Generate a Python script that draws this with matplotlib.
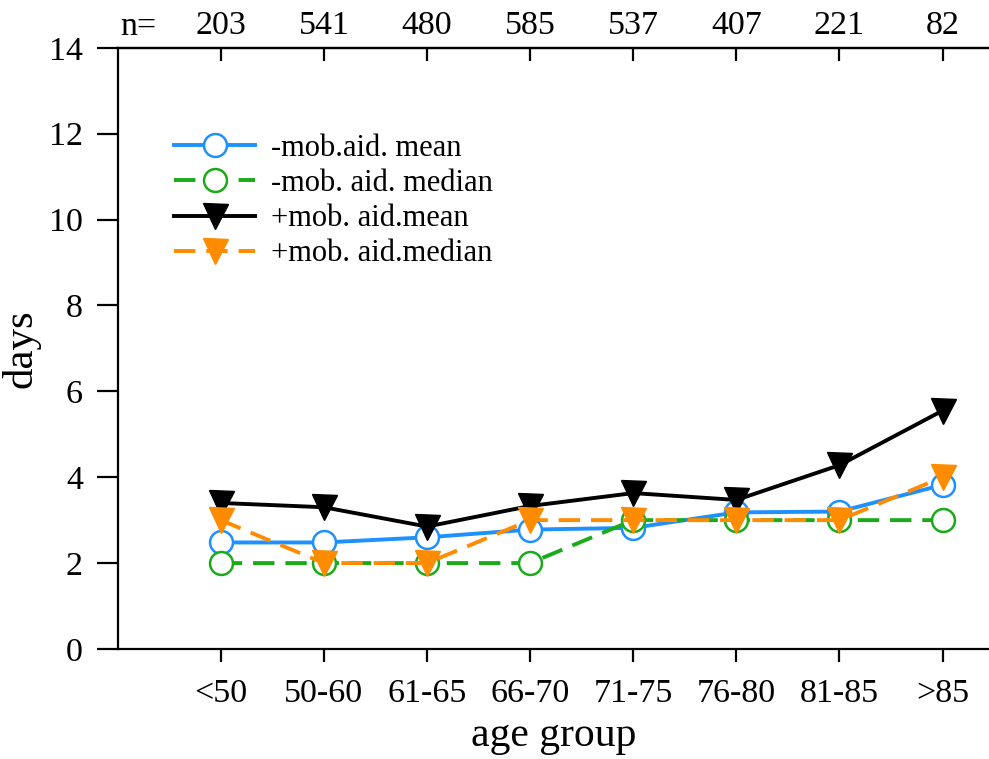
import numpy as np
import matplotlib
matplotlib.use('Agg')
import matplotlib.pyplot as plt

plt.rcParams['font.family'] = ['Liberation Serif', 'DejaVu Serif']

# ── Data ─────────────────────────────────────────────────────────────────────
age_groups = ['<50', '50-60', '61-65', '66-70', '71-75', '76-80', '81-85', '>85']
n_counts = ['203', '541', '480', '585', '537', '407', '221', '82']

no_aid_mean = [2.48, 2.48, 2.60, 2.78, 2.82, 3.18, 3.20, 3.82]
no_aid_median = [2, 2, 2, 2, 3, 3, 3, 3]
aid_mean = [3.40, 3.30, 2.85, 3.33, 3.63, 3.47, 4.28, 5.55]
aid_median = [3, 2, 2, 3, 3, 3, 3, 4]

# ── Plot ─────────────────────────────────────────────────────────────────────
fig = plt.figure(figsize=(9.89, 7.59), dpi=100)
ax = fig.add_axes([0.119, 0.145, 0.881, 0.792])

x = np.arange(len(age_groups))
dash = (0, (5.5, 2.8))
LW = 2.8

ax.plot(x, no_aid_mean, color='#1e90ff', lw=LW, marker='o', ms=16.5,
        mfc='white', mec='#1e90ff', mew=1.8, label='-mob.aid. mean')
ax.plot(x, no_aid_median, color='#1aaa1a', lw=LW, ls=dash, marker='o', ms=16.5,
        mfc='white', mec='#1aaa1a', mew=1.8, label='-mob. aid. median')
ax.plot(x, aid_mean, color='black', lw=LW, marker='v', ms=18,
        label='+mob. aid.mean')
ax.plot(x, aid_median, color='#ff8c00', lw=LW, ls=dash, marker='v', ms=18,
        label='+mob. aid.median')

ax.set_xlim(-1, 7.45)
ax.set_ylim(0, 14)
ax.set_yticks(range(0, 15, 2))
ax.set_xticks(x)
ax.set_xticklabels(age_groups)

for side in ['left', 'bottom', 'top']:
    ax.spines[side].set_linewidth(1.6)
ax.spines['right'].set_visible(False)

ax.tick_params(axis='y', direction='out', length=15, width=1.6, labelsize=24.5, pad=10)
ax.tick_params(axis='x', direction='out', length=9, width=1.6, labelsize=24.5, pad=12)

# sample sizes along the top axis
top = ax.secondary_xaxis('top')
top.set_xticks(x)
top.set_xticklabels(n_counts)
top.tick_params(direction='in', length=9, width=1.6, labelsize=24.5, pad=5)
top.spines['top'].set_linewidth(1.6)
ax.text(-0.8, 1.0 + 6 / 601, 'n=', transform=ax.get_xaxis_transform(),
        fontsize=24.5, ha='center', va='bottom')

ax.set_xlabel('age group', fontsize=30, labelpad=6)
ax.set_ylabel('days', fontsize=31)
ax.yaxis.set_label_coords(-0.089, 0.5)

leg = ax.legend(loc='upper left', bbox_to_anchor=(0.051, 0.877), frameon=False,
                fontsize=22, handlelength=2.65, handletextpad=0.5,
                labelspacing=0.2, borderaxespad=0)

fig.savefig('out.png', dpi=100)
